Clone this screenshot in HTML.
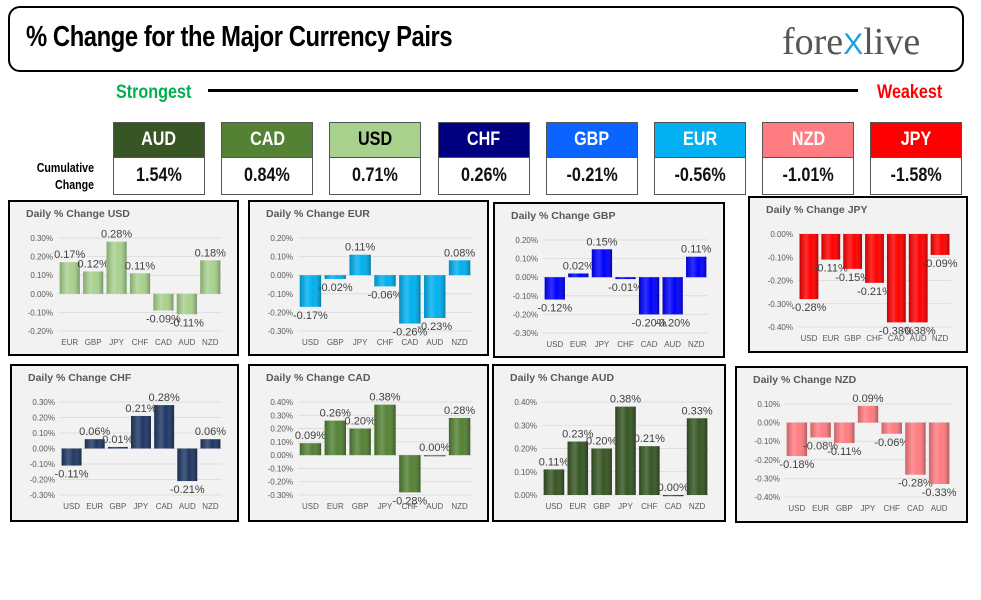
<!DOCTYPE html>
<html><head><meta charset="utf-8">
<style>
body{margin:0;width:981px;height:600px;background:#fff;position:relative;overflow:hidden;font-family:"Liberation Sans",sans-serif}
.nar{font-family:"Liberation Sans Narrow","Liberation Sans",sans-serif;font-weight:bold}
#title-box{position:absolute;left:8px;top:6px;width:952px;height:62px;border:2.5px solid #000;border-radius:12px}
#title{position:absolute;left:16px;top:13px;font-size:29px;letter-spacing:-0.5px;transform:scaleX(0.82);transform-origin:left;white-space:nowrap}
#logo{position:absolute;left:772px;top:12px;font-family:"Liberation Serif",serif;font-size:38px;color:#555;white-space:nowrap}
#logo span{color:#1aa3d9;font-size:30px;font-family:"Liberation Sans",sans-serif}
.lbl{position:absolute;font-size:19px;transform:scaleX(0.85);transform-origin:left;white-space:nowrap}
.card{position:absolute;top:122px;width:90px;border:1px solid #555}
.card .h{height:34px;line-height:34px;text-align:center;font-size:19px;color:#fff}
.card .v{height:36px;line-height:36px;text-align:center;font-size:19px;color:#111;background:#fff;border-top:1px solid #555}
.card span{display:inline-block;transform:scaleX(0.85)}
svg{position:absolute;left:0;top:0}
</style></head><body>
<div id="title-box">
<div id="title" class="nar">% Change for the Major Currency Pairs</div>
<div id="logo">fore<span>X</span>live</div>
</div>
<div class="lbl nar" style="left:116px;top:82px;color:#00b050">Strongest</div>
<div style="position:absolute;left:208px;top:89px;width:650px;height:3px;background:#000"></div>
<div class="lbl nar" style="left:877px;top:82px;color:#ff0000">Weakest</div>
<div class="nar" style="position:absolute;left:4px;top:160px;width:90px;text-align:right;font-size:12.5px;line-height:17px;transform:scaleX(0.85);transform-origin:right">Cumulative<br>Change</div>
<div id="cards"></div>
<svg id="charts" width="981" height="600"></svg>
<script>
const cardCurrencies=["AUD","CAD","USD","CHF","GBP","EUR","NZD","JPY"];
const cardValues=["1.54%","0.84%","0.71%","0.26%","-0.21%","-0.56%","-1.01%","-1.58%"];
const cardColors=["#375623","#548235","#a9d18e","#000080","#0a64ff","#00b0f0","#ff7c80","#ff0000"];
const cardsEl=document.getElementById('cards');
cardCurrencies.forEach((c,i)=>{
  const d=document.createElement('div');
  d.className='card nar';
  d.style.left=(113+i*108.2)+'px';
  
  
  d.innerHTML='<div class="h" style="background:'+cardColors[i]+';color:'+(c==="USD"?"#000":"#fff")+'"><span>'+c+'</span></div><div class="v"><span>'+cardValues[i]+'</span></div>';
  cardsEl.appendChild(d);
});

const usdCats=["EUR","GBP","JPY","CHF","CAD","AUD","NZD"];
const usdVals=[0.17,0.12,0.28,0.11,-0.09,-0.11,0.18];
const eurCats=["USD","GBP","JPY","CHF","CAD","AUD","NZD"];
const eurVals=[-0.17,-0.02,0.11,-0.06,-0.26,-0.23,0.08];
const gbpCats=["USD","EUR","JPY","CHF","CAD","AUD","NZD"];
const gbpVals=[-0.12,0.02,0.15,-0.01,-0.20,-0.20,0.11];
const jpyCats=["USD","EUR","GBP","CHF","CAD","AUD","NZD"];
const jpyVals=[-0.28,-0.11,-0.15,-0.21,-0.38,-0.38,-0.09];
const chfCats=["USD","EUR","GBP","JPY","CAD","AUD","NZD"];
const chfVals=[-0.11,0.06,0.01,0.21,0.28,-0.21,0.06];
const cadCats=["USD","EUR","GBP","JPY","CHF","AUD","NZD"];
const cadVals=[0.09,0.26,0.20,0.38,-0.28,0.00,0.28];
const audCats=["USD","EUR","GBP","JPY","CHF","CAD","NZD"];
const audVals=[0.11,0.23,0.20,0.38,0.21,0.00,0.33];
const nzdCats=["USD","EUR","GBP","JPY","CHF","CAD","AUD"];
const nzdVals=[-0.18,-0.08,-0.11,0.09,-0.06,-0.28,-0.33];

const panels=[
 {n:"USD",box:[9,201,229,154],min:-0.2,max:0.3,cats:usdCats,vals:usdVals,c:"#a9d18e"},
 {n:"EUR",box:[249,201,239,154],min:-0.3,max:0.2,cats:eurCats,vals:eurVals,c:"#00b0f0"},
 {n:"GBP",box:[494,203,230,154],min:-0.3,max:0.2,cats:gbpCats,vals:gbpVals,c:"#0000ff"},
 {n:"JPY",box:[749,197,218,155],min:-0.4,max:0.0,cats:jpyCats,vals:jpyVals,c:"#ff0000"},
 {n:"CHF",box:[11,365,227,156],min:-0.3,max:0.3,cats:chfCats,vals:chfVals,c:"#1f3864"},
 {n:"CAD",box:[249,365,239,156],min:-0.3,max:0.4,cats:cadCats,vals:cadVals,c:"#548235"},
 {n:"AUD",box:[493,365,232,156],min:0.0,max:0.4,cats:audCats,vals:audVals,c:"#375623"},
 {n:"NZD",box:[736,367,231,155],min:-0.4,max:0.1,cats:nzdCats,vals:nzdVals,c:"#ff7c80"}
];
const NS="http://www.w3.org/2000/svg";
const svg=document.getElementById('charts');
function mk(tag,attrs,parent){const e=document.createElementNS(NS,tag);for(const k in attrs)e.setAttribute(k,attrs[k]);(parent||svg).appendChild(e);return e;}
const defs=mk('defs',{});
const gr=mk('linearGradient',{id:'shade',x1:0,x2:1,y1:0,y2:0},defs);
gr.innerHTML='<stop offset="0" stop-color="#000" stop-opacity="0.2"/><stop offset="0.35" stop-color="#fff" stop-opacity="0.18"/><stop offset="0.6" stop-color="#fff" stop-opacity="0"/><stop offset="1" stop-color="#000" stop-opacity="0.3"/>';
panels.forEach((p,pi)=>{
  const [bx,by,bw,bh]=p.box;
  const g=mk('g',{});
  
  
  const bg=mk('rect',{x:bx,y:by,width:bw,height:bh,fill:'#f2f2f2',stroke:'#000','stroke-width':2},g);
  
  
  const t=mk('text',{x:bx+17,y:by+16,'font-size':10.5,'font-weight':'bold',fill:'#595959'},g);
  t.textContent='Daily % Change '+p.n;
  
  
  const top=by+37,bot=by+130,left=bx+49,right=bx+bw-16;
  const y=v=>top+(p.max-v)/(p.max-p.min)*(bot-top);
  const steps=Math.round((p.max-p.min)/0.1);
  for(let i=0;i<=steps;i++){
    const v=p.max-i*0.1;
    mk('line',{x1:left,x2:right,y1:y(v),y2:y(v),stroke:'#d9d9d9','stroke-width':0.8},g);
    const tl=mk('text',{x:left-5,y:y(v)+3,'font-size':8,fill:'#595959','text-anchor':'end'},g);
    tl.textContent=(v<-0.0001?'-':'')+Math.abs(v).toFixed(2)+'%';
    
    
  }
  const cw=(right-left)/p.cats.length,bwid=cw*0.86;
  p.cats.forEach((c,i)=>{
    const v=p.vals[i],cx=left+cw*(i+0.5);
    const y0=y(0),y1=y(v);
    const hh=Math.max(Math.abs(y1-y0),1.2);
    const r=mk('rect',{x:cx-bwid/2,y:Math.min(y0,y1),width:bwid,height:hh,fill:p.c},g);
    
    
    mk('rect',{x:cx-bwid/2,y:Math.min(y0,y1),width:bwid,height:hh,fill:'url(#shade)'},g);
    const lbl=mk('text',{x:cx,y:v>=0?y1-4:y1+12,'font-size':11,fill:'#404040','text-anchor':'middle'},g);
    lbl.textContent=(v<0?'-':'')+Math.abs(v).toFixed(2)+'%';
    
    
    const cl=mk('text',{x:cx,y:by+144,'font-size':8,fill:'#595959','text-anchor':'middle'},g);
    cl.textContent=c;
    
    
  });
});
</script>
</body></html>
